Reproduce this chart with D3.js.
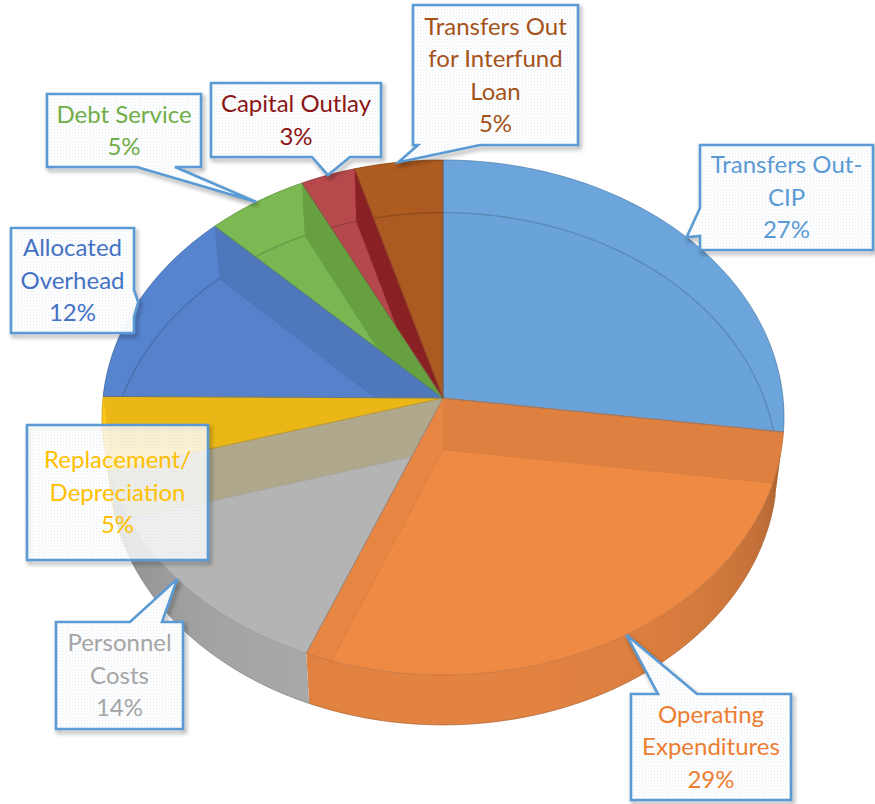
<!DOCTYPE html>
<html><head><meta charset="utf-8">
<script src="https://cdn.jsdelivr.net/npm/d3@7"></script>
<style>body{margin:0;background:#fff}svg{display:block}</style>
</head><body>
<svg id="chart" width="875" height="804"></svg>
<script>
// ---------- data ----------
const categories = ["Transfers Out-CIP","Operating Expenditures","Personnel Costs","Replacement/Depreciation","Allocated Overhead","Debt Service","Capital Outlay","Transfers Out for Interfund Loan"];
const values = [27.1, 29.0, 14.4, 4.6, 12.4, 5.2, 2.8, 4.5];
const percentLabels = ["27%","29%","14%","5%","12%","5%","3%","5%"];
const labelLines = [["Transfers Out-","CIP"],["Operating","Expenditures"],["Personnel","Costs"],["Replacement/","Depreciation"],["Allocated","Overhead"],["Debt Service"],["Capital Outlay"],["Transfers Out","for Interfund","Loan"]];

// ---------- styles ----------
const topColors  = ["#6aa3d9","#ef8a45","#b4b4b4","#fdc519","#5682cc","#79b752","#b4484c","#ab5a21"];
const textColors = ["#5b9bd5","#ed7d31","#a5a5a5","#ffc000","#4472c4","#70ad47","#8c1515","#a5531b"];
// callout layout (annotation boxes)
const calloutLayout = [
  {x:700,y:145,w:173,h:105,side:"left",b0:208,b1:236},
  {x:631,y:694,w:160,h:106,side:"top",b0:658,b1:697},
  {x:56,y:622,w:127,h:107,side:"top",b0:130,b1:162},
  {x:27,y:425,w:181,h:135,side:null},
  {x:11,y:228,w:123,h:105,side:"right",b0:290,b1:317},
  {x:47,y:94,w:154,h:73,side:"bottom",b0:137,b1:175},
  {x:211,y:83,w:170,h:74,side:"bottom",b0:312,b1:350},
  {x:413,y:5,w:165,h:140,side:"bottom",b0:418,b1:480}
];

// ---------- 3D projection ----------
const cx = 443, cy = 398;
const sinP = 0.753, cosP = Math.sqrt(1 - sinP*sinP);
const Dist = 8.69, F = 340*Dist, T = 0.236;
const rScale = d3.scaleLinear().domain([0,1]).range([0,1]);
function proj(theta, r, Y){
  const rr = rScale(r);
  const X = rr*Math.sin(theta), Z = rr*Math.cos(theta);
  const depth = Dist - Y*sinP + Z*cosP;
  const up = Y*cosP + Z*sinP;
  return [cx + F*X/depth, cy - F*up/depth];
}
const STEP = Math.PI/360;
function arcPts(a0, a1, r, Y){
  const n = Math.max(1, Math.ceil(Math.abs(a1-a0)/STEP));
  return d3.range(n+1).map(k => proj(a0 + (a1-a0)*k/n, r, Y));
}
const line = d3.line();
const closed = pts => line(pts) + "Z";

const thA = Math.acos(-1/(Dist*cosP));      // front wall visible from thA..thB
const thB = 2*Math.PI - thA;

const pie = d3.pie().sort(null).value(d => d).startAngle(0).endAngle(2*Math.PI);
const arcs = pie(values);
const N = arcs.length;

// darken by multiplying rgb, optionally push saturation
function shade(col, f, boost){
  const c = d3.rgb(col);
  let r = c.r*f, g = c.g*f, b = c.b*f;
  const s = boost || 1, m = (r+g+b)/3;
  r = m + (r-m)*s; g = m + (g-m)*s; b = m + (b-m)*s;
  return d3.rgb(Math.max(0,Math.min(255,r)), Math.max(0,Math.min(255,g)), Math.max(0,Math.min(255,b))).formatHex();
}
function wallColor(i, theta, isEnd){
  const nx = isEnd ? -Math.cos(theta) : Math.cos(theta);
  let f = 0.965;
  if (nx < 0) f = Math.max(0.55, 0.93 - 0.3*Math.exp(-8*(Math.abs(Math.sin(theta)) - 0.28)));
  let base = topColors[i];
  const h = d3.hsl(base);
  if (!(h.s > 0.05)) {
    const nb = isEnd ? (i+1)%N : (i-1+N)%N;
    base = d3.interpolateRgb(base, topColors[nb])(0.17);
    f *= 0.95;
  }
  return shade(base, f, 1 + Math.max(0, 0.9 - f)*2);
}

const svg = d3.select("#chart");
const defs = svg.append("defs");

// patterns & filters
const pat = defs.append("pattern").attr("id","stipple").attr("width",3).attr("height",3).attr("patternUnits","userSpaceOnUse");
pat.append("rect").attr("width",1).attr("height",1).attr("fill","#c9d6e6").attr("opacity",0.5);
pat.append("rect").attr("x",1.5).attr("y",1.5).attr("width",1).attr("height",1).attr("fill","#d8e1ec").attr("opacity",0.4);
const flt = defs.append("filter").attr("id","shadow").attr("x","-20%").attr("y","-20%").attr("width","140%").attr("height","140%");
flt.append("feGaussianBlur").attr("in","SourceAlpha").attr("stdDeviation",2.2).attr("result","b");
flt.append("feOffset").attr("in","b").attr("dx",2).attr("dy",3).attr("result","o");
flt.append("feComponentTransfer").attr("in","o").append("feFuncA").attr("type","linear").attr("slope",0.35);

const gWall = svg.append("g");
const gTop = svg.append("g");
const gInner = svg.append("g");
const gEdge = svg.append("g");
const gCall = svg.append("g");

// front outer walls, one path per slice with horizontal gradient
arcs.forEach((a, i) => {
  const a0 = Math.max(a.startAngle, thA), a1 = Math.min(a.endAngle, thB);
  if (a1 <= a0) return;
  const xa = proj(a0,1,0)[0], xb = proj(a1,1,0)[0];
  const gid = "side"+i;
  const grad = defs.append("linearGradient").attr("id", gid).attr("gradientUnits","userSpaceOnUse")
    .attr("x1", xa).attr("y1", 0).attr("x2", xb).attr("y2", 0);
  const ns = 24;
  d3.range(ns+1).forEach(k => {
    const th = a0 + (a1-a0)*k/ns;
    const gg = Math.max(0, Math.min(1, (-Math.cos(th) - 0.1749)/0.8251));
    const col = shade(topColors[i], 0.6 + 0.35*Math.pow(gg, 0.45));
    const off = Math.abs(xb - xa) < 0.01 ? k/ns : (proj(th,1,0)[0] - xa)/(xb - xa);
    grad.append("stop").attr("offset", Math.max(0, Math.min(1, off))).attr("stop-color", col);
  });
  const pts = arcPts(a0, a1, 1, 0).concat(arcPts(a1, a0, 1, -T));
  gWall.append("path").attr("d", closed(pts)).attr("fill", `url(#${gid})`);
  gWall.append("path").attr("d", line(arcPts(a0, a1, 1, -T))).attr("fill","none")
    .attr("stroke", shade(topColors[i], 0.7)).attr("stroke-width", 1).attr("opacity", 0.7);
});

// top faces + see-through interior
arcs.forEach((a, i) => {
  const topPts = [proj(0,0,0)].concat(arcPts(a.startAngle, a.endAngle, 1, 0));
  const d = closed(topPts);
  gTop.append("path").attr("d", d).attr("fill", topColors[i]);
  defs.append("clipPath").attr("id", "clip"+i).append("path").attr("d", d);
  const g = gInner.append("g").attr("clip-path", `url(#clip${i})`);
  // back band between top rim and bottom rim (far part of arc)
  [[0, thA], [thB, 2*Math.PI]].forEach(([p0, p1]) => {
    const s0 = Math.max(a.startAngle, p0), s1 = Math.min(a.endAngle, p1);
    if (s1 <= s0) return;
    const pts = arcPts(s0, s1, 1, 0).concat(arcPts(s1, s0, 1, -T));
    g.append("path").attr("d", closed(pts)).attr("fill", shade(topColors[i], 1.015));
  });
  // radial walls
  [[a.startAngle, false], [a.endAngle, true]].forEach(([th, isEnd]) => {
    const pts = [proj(th,0,0), proj(th,1,0), proj(th,1,-T), proj(th,0,-T)];
    g.append("path").attr("d", closed(pts)).attr("fill", wallColor(i, th, isEnd));
  });
  // bottom rim seen through
  g.append("path").attr("d", line(arcPts(a.startAngle, a.endAngle, 1, -T))).attr("fill","none")
    .attr("stroke", shade(topColors[i], 0.82)).attr("stroke-width", 1.3).attr("opacity", 0.9);
  g.append("path").attr("d", line([proj(a.startAngle,1,-T), proj(0,0,-T), proj(a.endAngle,1,-T)])).attr("fill","none")
    .attr("stroke", shade(topColors[i], 0.88)).attr("stroke-width", 1).attr("opacity", 0.5);
  // edge
  gEdge.append("path").attr("d", d).attr("fill","none").attr("stroke", shade(topColors[i], 0.8))
    .attr("stroke-width", 1).attr("stroke-opacity", 0.75).attr("stroke-linejoin","round");
});

// callouts
function calloutPts(c, tip){
  const x = c.x, y = c.y, x2 = c.x + c.w, y2 = c.y + c.h;
  if (!c.side || (tip[0] > x && tip[0] < x2 && tip[1] > y && tip[1] < y2)) return [[x,y],[x2,y],[x2,y2],[x,y2]];
  if (c.side === "top") return [[x,y],[c.b0,y],tip,[c.b1,y],[x2,y],[x2,y2],[x,y2]];
  if (c.side === "bottom") return [[x,y],[x2,y],[x2,y2],[c.b1,y2],tip,[c.b0,y2],[x,y2]];
  if (c.side === "left") return [[x,y],[x2,y],[x2,y2],[x,y2],[x,c.b1],tip,[x,c.b0]];
  return [[x,y],[x2,y],[x2,c.b0],tip,[x2,c.b1],[x2,y2],[x,y2]];
}
const FS = 24, LH = 32.5;
arcs.forEach((a, i) => {
  const c = calloutLayout[i];
  const tip = proj((a.startAngle + a.endAngle)/2, 1, 0);
  const d = closed(calloutPts(c, tip));
  const g = gCall.append("g");
  g.append("path").attr("d", d).attr("fill","none").attr("stroke","#5b9bd5").attr("stroke-width",3).attr("filter","url(#shadow)");
  g.append("path").attr("d", d).attr("fill","#ffffff").attr("fill-opacity", i === 3 ? 0.8 : 0.96);
  g.append("path").attr("d", d).attr("fill","url(#stipple)");
  g.append("path").attr("d", d).attr("fill","none").attr("stroke","#5b9bd5").attr("stroke-width",2.6).attr("stroke-linejoin","miter");
  const lines = labelLines[i].concat([percentLabels[i]]);
  const midY = c.y + c.h/2, midX = c.x + c.w/2;
  lines.forEach((t, k) => {
    g.append("text").attr("x", midX).attr("y", midY + (k - (lines.length-1)/2)*LH + FS*0.35)
      .attr("text-anchor","middle").attr("font-family","Lato, 'Open Sans', sans-serif")
      .attr("font-size", FS).attr("fill", textColors[i]).text(t);
  });
});
</script>
</body></html>
